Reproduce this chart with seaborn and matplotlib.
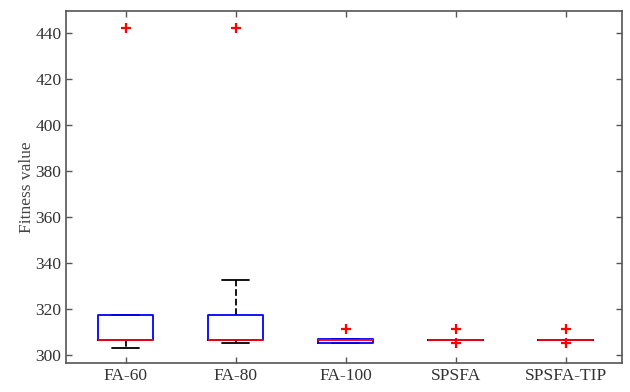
import numpy as np
import pandas as pd
import matplotlib
matplotlib.use("Agg")
import matplotlib.pyplot as plt
import seaborn as sns

algorithms = ["FA-60", "FA-80", "FA-100", "SPSFA", "SPSFA-TIP"]
fa60 = [303.0, 306.5, 306.5, 306.5, 306.5, 306.5, 317.4, 317.4, 317.4, 442.5]
fa80 = [305.0, 306.5, 306.5, 306.5, 306.5, 306.5, 317.4, 317.4, 332.6, 442.5]
fa100 = [305.0, 305.0, 305.0, 305.0, 306.5, 306.5, 306.8, 306.8, 306.8, 311.3]
spsfa = [305.0, 306.5, 306.5, 306.5, 306.5, 306.5, 306.5, 306.5, 306.5, 311.3]
spsfa_tip = [305.0, 306.5, 306.5, 306.5, 306.5, 306.5, 306.5, 306.5, 306.5, 311.3]
yticks = [300, 320, 340, 360, 380, 400, 420, 440]

series = [fa60, fa80, fa100, spsfa, spsfa_tip]
df = pd.DataFrame({
    "Algorithm": np.repeat(algorithms, [len(s) for s in series]),
    "Fitness": np.concatenate(series),
})

sns.set_style("white")
plt.rcParams["font.family"] = ["Liberation Serif", "DejaVu Serif"]

fig = plt.figure(figsize=(6.3, 3.92), dpi=100)
ax = fig.add_axes([0.105, 0.074, 0.882, 0.898])

sns.boxplot(
    data=df, x="Algorithm", y="Fitness", order=algorithms, ax=ax,
    fill=False, color="blue", width=0.5, whis=1.5, linewidth=1.3,
    boxprops=dict(color="blue", linewidth=1.3),
    medianprops=dict(color="red", linewidth=1.3),
    whiskerprops=dict(color="black", linestyle="--", linewidth=1.3),
    capprops=dict(color="black", linewidth=1.3),
    flierprops=dict(marker="+", markeredgecolor="red", markerfacecolor="red",
                    markersize=7, markeredgewidth=1.6),
)

# draw box outlines above caps, medians above boxes (MATLAB order)
for ln in ax.lines:
    c = matplotlib.colors.to_hex(ln.get_color())
    if c == "#0000ff":
        ln.set_zorder(3)
    elif c == "#ff0000" and ln.get_linestyle() == "-":
        ln.set_zorder(4)

ax.set_xlim(-0.54, 4.51)
ax.set_ylim(296.5, 449.7)
ax.set_yticks(yticks)
ax.set_xlabel("")
ax.set_ylabel("Fitness value", fontsize=12.5, color="#444444", labelpad=0)
for s in ax.spines.values():
    s.set_visible(True)
    s.set_color("#555555")
    s.set_linewidth(1.2)
ax.tick_params(direction="in", length=4, width=1, color="#555555",
               labelsize=12.5, labelcolor="#333333",
               top=True, right=True, bottom=True, left=True)

fig.savefig("out.png", dpi=100)
